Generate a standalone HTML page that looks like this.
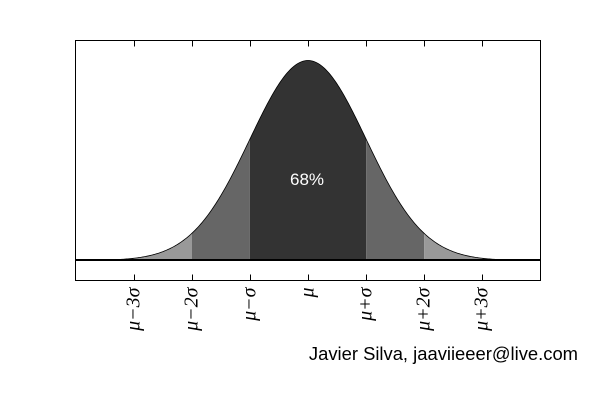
<!DOCTYPE html>
<html><head><meta charset="utf-8"><style>body{margin:0;background:#fff}svg{display:block}</style></head>
<body>
<svg width="600" height="400" id="c">
<rect x="0" y="0" width="600" height="400" fill="#fff"/>
<g id="fills"></g>
<path id="curve" fill="none" stroke="#000" stroke-width="0.8"/>
<line x1="75" x2="540" y1="260" y2="260" stroke="#000" stroke-width="2"/>
<text x="307" y="185" font-family="Liberation Sans, sans-serif" font-size="17" fill="#fff" text-anchor="middle">68%</text>
<rect x="75.5" y="40.5" width="465" height="240" fill="none" stroke="#000" stroke-width="1"/>
<g id="ticks"></g>
<text x="578" y="360" font-family="Liberation Sans, sans-serif" font-size="18.4" fill="#000" text-anchor="end">Javier Silva, jaaviieeer@live.com</text>
</svg>
<script>
const bandEdges = [-4, -3, -2, -1, 1, 2, 3, 4];
const bandColors = ['#333', '#999', '#666', '#333', '#666', '#999', '#333'];
const tickValues = [-3, -2, -1, 0, 1, 2, 3];
const tickLabels = ['μ−3σ', 'μ−2σ', 'μ−σ', 'μ', 'μ+σ', 'μ+2σ', 'μ+3σ'];
const xMin = -4, xMax = 4, yMin = -0.1, yMax = 1.1;
const L = 75.5, R = 540.5, T = 40.5, B = 280.5;
const sx = v => L + (v - xMin) / (xMax - xMin) * (R - L);
const sy = v => B - (v - yMin) / (yMax - yMin) * (B - T);
const f = x => Math.exp(-x * x / 2);
const NS = 'http://www.w3.org/2000/svg';
const fills = document.getElementById('fills');
for (let i = 0; i < bandEdges.length - 1; i++) {
  const a = bandEdges[i], b = bandEdges[i + 1];
  let d = `M${sx(a)},${sy(0)}`;
  for (let k = 0; k <= 60; k++) { const x = a + (b - a) * k / 60; d += `L${sx(x)},${sy(f(x))}`; }
  d += `L${sx(b)},${sy(0)}Z`;
  const p = document.createElementNS(NS, 'path');
  p.setAttribute('d', d); p.setAttribute('fill', bandColors[i]);
  
  
  fills.appendChild(p);
}
let cd = '';
for (let k = 0; k <= 400; k++) { const x = xMin + (xMax - xMin) * k / 400; cd += (k ? 'L' : 'M') + sx(x) + ',' + sy(f(x)); }
document.getElementById('curve').setAttribute('d', cd);
const tg = document.getElementById('ticks');
tickValues.forEach((v, i) => {
  const x = Math.round(sx(v)) + 0.5;
  for (const [y1, y2] of [[B, B - 6], [T, T + 6]]) {
    const l = document.createElementNS(NS, 'line');
    l.setAttribute('x1', x); l.setAttribute('x2', x); l.setAttribute('y1', y1); l.setAttribute('y2', y2);
    l.setAttribute('stroke', '#000');
    
    
    tg.appendChild(l);
  }
  const t = document.createElementNS(NS, 'text');
  t.setAttribute('transform', `translate(${x + 5},${B + 7}) rotate(-90)`);
  t.setAttribute('text-anchor', 'end');
  t.setAttribute('font-family', 'Liberation Serif, serif');
  t.setAttribute('font-style', 'italic');
  t.setAttribute('font-size', '20');
  t.textContent = tickLabels[i];
  
  
  tg.appendChild(t);
});
</script>
</body></html>
